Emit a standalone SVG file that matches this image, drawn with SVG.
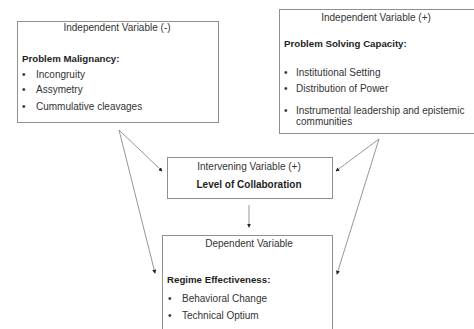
<svg xmlns="http://www.w3.org/2000/svg" width="474" height="329" viewBox="0 0 474 329">
<style>
.box{fill:#fff;stroke:#8f8f8f;stroke-width:1}
text{font-family:"Liberation Sans",Arial,sans-serif;font-size:10px;fill:#333}
.b{font-weight:bold;fill:#1e1e1e;font-size:9.7px}
.c{text-anchor:middle}
.ln{stroke:#8a8a8a;stroke-width:0.9;fill:none;marker-end:url(#ah)}
</style>
<defs>
<marker id="ah" viewBox="0 0 6 6" refX="5" refY="3" markerWidth="4" markerHeight="4" orient="auto" markerUnits="userSpaceOnUse">
<path d="M0,0 L6,3 L0,6 z" fill="#222"/>
</marker>
</defs>
<rect width="474" height="329" fill="#fff"/>
<g id="connectors">
<line class="ln" x1="119" y1="130" x2="162" y2="171"/>
<line class="ln" x1="119" y1="130" x2="155" y2="273"/>
<line class="ln" x1="379" y1="139" x2="336" y2="171"/>
<line class="ln" x1="379" y1="139" x2="337" y2="274"/>
<line class="ln" x1="249" y1="205" x2="249" y2="227"/>
</g>
<g id="iv-neg">
<rect class="box" x="17.5" y="21.5" width="201" height="101"/>
<text class="c" x="117" y="30.5">Independent Variable (-)</text>
<text class="b" x="22" y="61.5">Problem Malignancy:</text>
<text x="22" y="77.5">•</text><text x="36" y="77.5">Incongruity</text>
<text x="22" y="92.5">•</text><text x="36" y="92.5">Assymetry</text>
<text x="22" y="109.5">•</text><text x="36" y="109.5">Cummulative cleavages</text>
</g>
<g id="iv-pos">
<rect class="box" x="279.5" y="9.5" width="200" height="124"/>
<text class="c" x="376" y="20.5">Independent Variable (+)</text>
<text class="b" x="284" y="46.5">Problem Solving Capacity:</text>
<text x="284" y="75.5">•</text><text x="296" y="75.5">Institutional Setting</text>
<text x="284" y="91.5">•</text><text x="296" y="91.5">Distribution of Power</text>
<text x="284" y="113.5">•</text><text x="296" y="113.5">Instrumental leadership and epistemic</text>
<text x="296" y="124.5">communities</text>
</g>
<g id="intervening">
<rect class="box" x="167.5" y="157.5" width="165" height="41"/>
<text class="c" x="249" y="169.5">Intervening Variable (+)</text>
<text class="c b" x="249" y="187.5" style="font-size:10px">Level of Collaboration</text>
</g>
<g id="dependent">
<rect class="box" x="162.5" y="235.5" width="170" height="110"/>
<text class="c" x="249" y="246.5">Dependent Variable</text>
<text class="b" x="167" y="282.5">Regime Effectiveness:</text>
<text x="168" y="301.5">•</text><text x="182" y="301.5">Behavioral Change</text>
<text x="168" y="318.5">•</text><text x="182" y="318.5">Technical Optium</text>
</g>
</svg>
